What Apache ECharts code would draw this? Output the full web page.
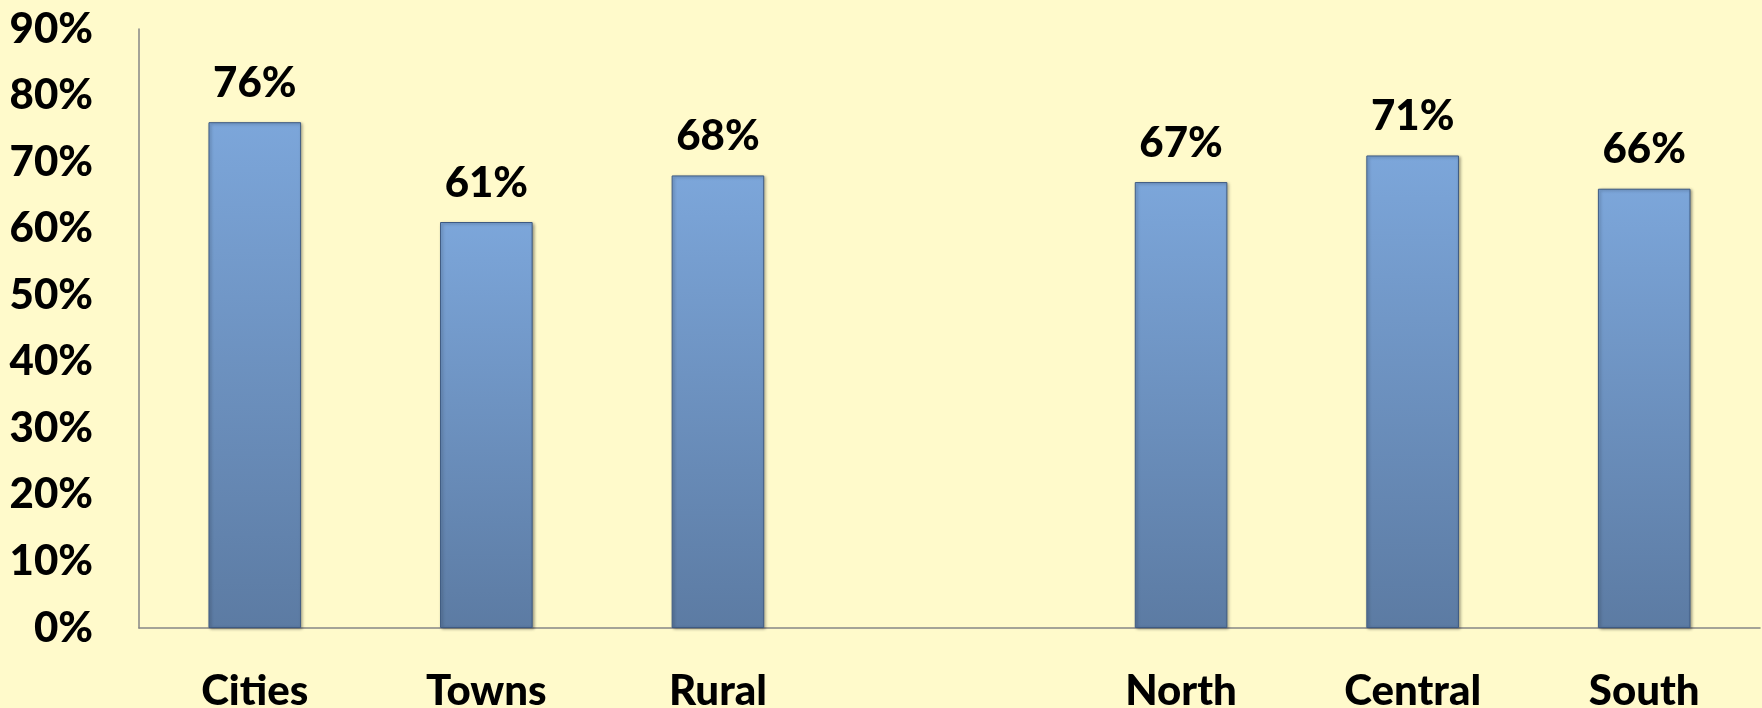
<!DOCTYPE html>
<html>
<head>
<meta charset="utf-8">
<script src="https://cdn.jsdelivr.net/npm/echarts@6/dist/echarts.min.js"></script>
<style>
html,body{margin:0;padding:0;background:#FFFACB;}
#c{width:1762px;height:708px;}
</style>
</head>
<body>
<div id="c"></div>
<script>
const categories = ['Cities', 'Towns', 'Rural', '', 'North', 'Central', 'South'];
const values = [76, 61, 68, null, 67, 71, 66];
const yTicks = { min: 0, max: 90, interval: 10 };

const chart = echarts.init(document.getElementById('c'));
const font = 'Lato, "Open Sans", sans-serif';
chart.setOption({
  backgroundColor: '#FFFACB',
  animation: false,
  grid: { left: 139, right: 2, top: 29, bottom: 80, containLabel: false, outerBoundsMode: 'none' },
  xAxis: {
    type: 'category',
    data: categories,
    axisLine: { lineStyle: { color: '#868686', width: 1.5 } },
    axisTick: { show: false },
    axisLabel: { color: '#000', fontFamily: font, fontWeight: 900, fontSize: 42, margin: 42, interval: 0 }
  },
  yAxis: {
    type: 'value',
    min: yTicks.min, max: yTicks.max, interval: yTicks.interval,
    splitLine: { show: false },
    axisLine: { show: true, lineStyle: { color: '#868686', width: 1.5 } },
    axisTick: { show: false },
    axisLabel: { color: '#000', fontFamily: font, fontWeight: 900, fontSize: 42, margin: 46, formatter: '{value}%' }
  },
  series: [{
    type: 'bar',
    data: values,
    barWidth: '40%',
    itemStyle: {
      color: new echarts.graphic.LinearGradient(0, 0, 0, 1, [
        { offset: 0, color: '#7CA6DA' },
        { offset: 1, color: '#5C7BA3' }
      ]),
      borderColor: '#3E5A82',
      borderWidth: 1,
      shadowBlur: 3,
      shadowOffsetX: 1.5,
      shadowOffsetY: 1,
      shadowColor: 'rgba(0,0,0,0.35)'
    },
    label: {
      show: true, position: 'top', distance: 18,
      color: '#000', fontFamily: font, fontWeight: 900, fontSize: 42,
      formatter: p => p.value + '%'
    }
  }]
});
</script>
</body>
</html>
